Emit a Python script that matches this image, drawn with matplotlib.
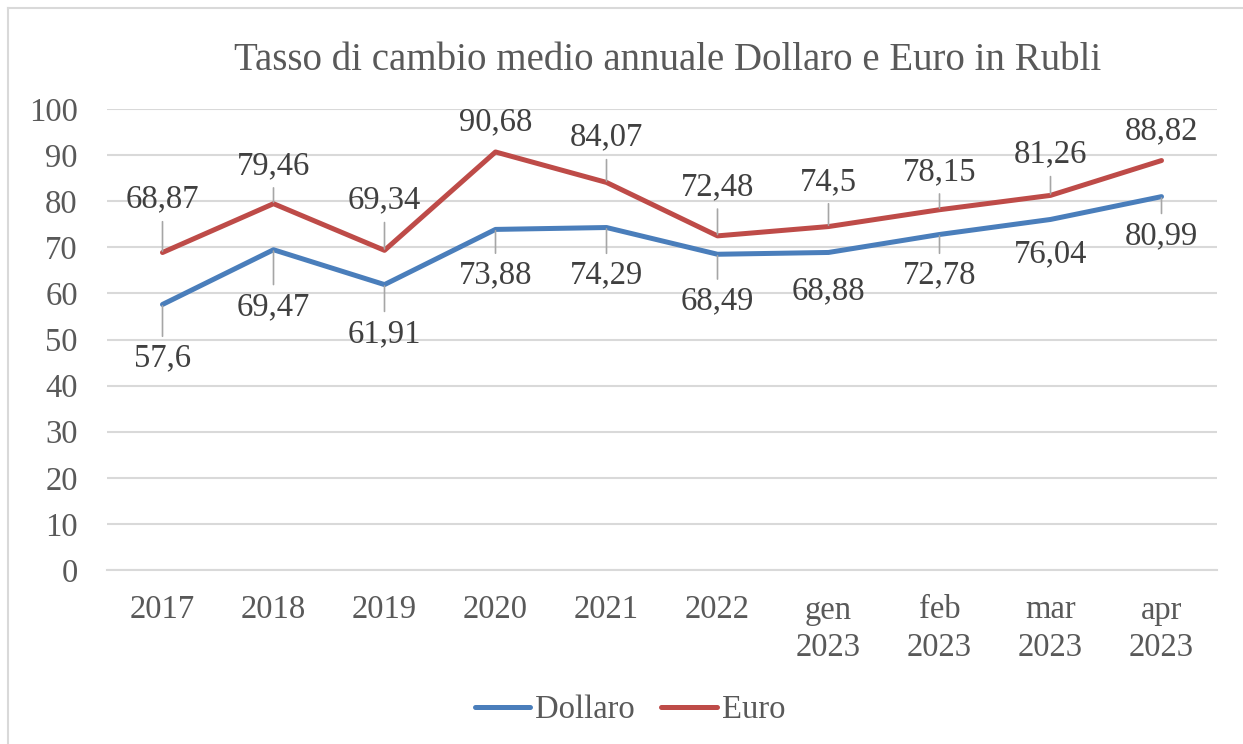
import matplotlib
matplotlib.use("Agg")
import matplotlib.pyplot as plt
from matplotlib.lines import Line2D

categories = ["2017", "2018", "2019", "2020", "2021", "2022",
              "gen\n2023", "feb\n2023", "mar\n2023", "apr\n2023"]
dollaro = [57.6, 69.47, 61.91, 73.88, 74.29, 68.49, 68.88, 72.78, 76.04, 80.99]
euro = [68.87, 79.46, 69.34, 90.68, 84.07, 72.48, 74.5, 78.15, 81.26, 88.82]
dollaro_labels = ["57,6", "69,47", "61,91", "73,88", "74,29", "68,49", "68,88", "72,78", "76,04", "80,99"]
euro_labels = ["68,87", "79,46", "69,34", "90,68", "84,07", "72,48", "74,5", "78,15", "81,26", "88,82"]
yticks = [0, 10, 20, 30, 40, 50, 60, 70, 80, 90, 100]

# layout: label offsets (pixels, positive = up) and leader-line flags
euro_dy = [53, 38, 50, 30, 45, 49, 45, 38, 41, 30]
dollaro_dy = [-54, -57, -49, -46, -48, -47, -39, -41, -35, -39]
euro_leader = [True, True, True, False, True, True, True, True, True, False]
dollaro_leader = [True, True, True, True, True, True, False, True, False, True]

W, H = 1243, 744
plt.rcParams['font.family'] = ['Liberation Serif', 'DejaVu Serif']
FS = 23.5
fig = plt.figure(figsize=(W / 100, H / 100), dpi=100)
ax = fig.add_axes([107 / W, 1 - 570 / H, (1217 - 107) / W, (570 - 109) / H])

x = list(range(len(categories)))
blue = '#4a7ebb'
red = '#be4b48'
ax.plot(x, dollaro, color=blue, lw=3.6, solid_capstyle='round', solid_joinstyle='round', label='Dollaro', zorder=3)
ax.plot(x, euro, color=red, lw=3.6, solid_capstyle='round', solid_joinstyle='round', label='Euro', zorder=3)

ax.set_xlim(-0.5, len(categories) - 0.5)
ax.set_ylim(0, 100)
ax.set_yticks(yticks)
ax.set_xticks(x)
ax.set_xticklabels(categories, linespacing=1.3)
ax.yaxis.grid(True, color='#d9d9d9', lw=1.5)
ax.set_axisbelow(True)
for s in ['top', 'right', 'left']:
    ax.spines[s].set_visible(False)
ax.spines['bottom'].set_color('#d9d9d9')
ax.spines['bottom'].set_linewidth(1.5)
ax.tick_params(axis='both', length=0, labelsize=FS, colors='#595959')
ax.tick_params(axis='y', pad=21)
ax.tick_params(axis='x', pad=18)

def label(xi, yi, txt, dy, leader):
    ap = dict(arrowstyle='-', color='#a6a6a6', lw=1.2, shrinkA=3, shrinkB=1) if leader else None
    ax.annotate(txt, (xi, yi), xytext=(0, dy), textcoords='offset pixels',
                ha='center', va='center', fontsize=FS, color='#404040',
                arrowprops=ap, zorder=4)

for i in x:
    label(i, euro[i], euro_labels[i], euro_dy[i], euro_leader[i])
    label(i, dollaro[i], dollaro_labels[i], dollaro_dy[i], dollaro_leader[i])

fig.text(668 / W, 1 - 61 / H, "Tasso di cambio medio annuale Dollaro e Euro in Rubli",
         ha='center', va='center', fontsize=28, color='#595959')

fig.legend(loc='center', bbox_to_anchor=(630 / W, 1 - 710 / H), ncol=2, frameon=False,
           fontsize=FS, labelcolor='#595959', handlelength=1.7, handletextpad=0.15,
           columnspacing=0.8)

# chart border
fig.add_artist(Line2D([8 / W, 8 / W], [0, 1 - 8 / H], transform=fig.transFigure, color='#d9d9d9', lw=1.5))
fig.add_artist(Line2D([8 / W, 1], [1 - 8 / H, 1 - 8 / H], transform=fig.transFigure, color='#d9d9d9', lw=1.5))

fig.savefig('out.png', dpi=100)
